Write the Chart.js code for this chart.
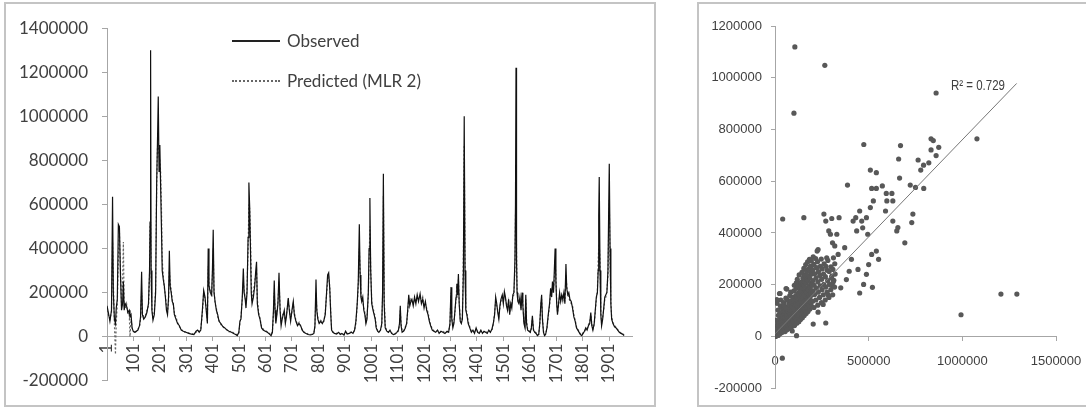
<!DOCTYPE html>
<html>
<head>
<meta charset="utf-8">
<script src="https://cdn.jsdelivr.net/npm/chart.js@4.4.1/dist/chart.umd.min.js"></script>
<style>
  html, body { margin: 0; padding: 0; background: #fff; overflow: hidden; }
  body { width: 1086px; height: 408px; position: relative; }
  .panel { position: absolute; border: 2px solid #c4c4c4; box-sizing: border-box; background: #fff; }
  #leftPanel { left: 4px; top: 2px; width: 652px; height: 405px; }
  #rightPanel { left: 697px; top: 2px; width: 400px; height: 405px; }
  .wrap { position: relative; width: 100%; height: 100%; }
  .legline { position: absolute; left: 232px; width: 48px; height: 0; }
  .legtext { position: absolute; left: 287px; font: 17px Lato, sans-serif; color: #404040; line-height: 20px; white-space: nowrap; }
  #r2 { position: absolute; left: 951px; top: 76px; font: 14px 'Liberation Sans', sans-serif; color: #404040; line-height: 18px; white-space: nowrap; transform: scaleX(0.82); transform-origin: left center; }
</style>
</head>
<body>
<div class="panel" id="leftPanel"><div class="wrap"><canvas id="seriesChart"></canvas></div></div>
<div class="panel" id="rightPanel"><div class="wrap"><canvas id="scatterChart"></canvas></div></div>

<div class="legline" style="top:40px; border-top:2px solid #222;"></div>
<div class="legtext" style="top:31px;">Observed</div>
<div class="legline" style="top:80px; border-top:2px dotted #666;"></div>
<div class="legtext" style="top:71px;">Predicted (MLR 2)</div>
<div id="r2">R² = 0.729</div>

<script>
// time series: day index, observed and predicted flow
const days = [
  1, 6, 12, 18, 22, 25, 29, 33, 36, 40,
  44, 48, 52, 56, 60, 63, 66, 70, 75, 80,
  85, 88, 92, 96, 100, 106, 112, 118, 124, 128,
  132, 135, 140, 146, 152, 158, 162, 164, 166, 168,
  171, 175, 180, 185, 189, 192, 195, 198, 201, 204,
  207, 210, 214, 218, 222, 226, 230, 234, 237, 240,
  244, 248, 252, 256, 262, 268, 275, 282, 290, 300,
  310, 320, 330, 338, 344, 350, 356, 362, 367, 372,
  378, 381, 384, 387, 392, 397, 400, 403, 406, 410,
  415, 420, 425, 432, 440, 447, 455, 463, 472, 480,
  488, 494, 500, 504, 508, 513, 517, 520, 524, 527,
  531, 535, 538, 541, 544, 547, 550, 555, 560, 564,
  567, 570, 575, 580, 586, 592, 600, 608, 616, 622,
  627, 631, 634, 637, 640, 644, 648, 652, 656, 660,
  664, 668, 672, 676, 680, 684, 687, 691, 696, 701,
  706, 710, 716, 722, 728, 734, 740, 746, 754, 762,
  770, 778, 784, 788, 792, 795, 799, 804, 810, 816,
  822, 827, 832, 836, 840, 844, 848, 851, 856, 862,
  870, 878, 884, 890, 898, 904, 910, 918, 926, 932,
  938, 943, 948, 952, 956, 959, 962, 965, 969, 973,
  977, 981, 985, 990, 993, 996, 999, 1003, 1008, 1012,
  1016, 1020, 1025, 1030, 1036, 1041, 1044, 1047, 1050, 1054,
  1060, 1066, 1072, 1078, 1085, 1092, 1098, 1104, 1108, 1111,
  1114, 1118, 1124, 1130, 1135, 1139, 1143, 1147, 1151, 1155,
  1160, 1165, 1170, 1175, 1180, 1186, 1191, 1196, 1201, 1206,
  1211, 1216, 1221, 1226, 1232, 1238, 1245, 1252, 1258, 1265,
  1272, 1280, 1288, 1294, 1299, 1303, 1306, 1310, 1314, 1318,
  1322, 1325, 1328, 1331, 1334, 1338, 1342, 1346, 1350, 1353,
  1356, 1359, 1363, 1368, 1374, 1380, 1386, 1392, 1398, 1404,
  1410, 1416, 1422, 1428, 1434, 1440, 1446, 1452, 1458, 1463,
  1468, 1472, 1476, 1480, 1484, 1488, 1492, 1497, 1501, 1505,
  1509, 1513, 1517, 1521, 1525, 1529, 1533, 1537, 1541, 1545,
  1547, 1549, 1551, 1553, 1556, 1560, 1564, 1568, 1572, 1575,
  1579, 1583, 1586, 1589, 1593, 1598, 1603, 1607, 1611, 1615,
  1620, 1625, 1630, 1635, 1639, 1643, 1646, 1649, 1653, 1657,
  1661, 1666, 1671, 1676, 1680, 1684, 1687, 1691, 1694, 1697,
  1700, 1703, 1706, 1710, 1714, 1718, 1722, 1726, 1730, 1734,
  1738, 1741, 1745, 1749, 1753, 1758, 1763, 1768, 1773, 1778,
  1783, 1788, 1793, 1798, 1803, 1808, 1813, 1818, 1823, 1828,
  1832, 1836, 1840, 1845, 1849, 1853, 1857, 1860, 1862, 1864,
  1867, 1870, 1873, 1877, 1881, 1885, 1889, 1893, 1897, 1900,
  1902, 1905, 1908, 1911, 1916, 1922, 1928, 1934, 1940, 1946,
  1952, 1958
];

const observed = [
  140000, 110000, 70000, 120000, 635000, 200000, 80000, 60000, 130000, 170000,
  510000, 500000, 280000, 120000, 150000, 250000, 120000, 150000, 140000, 110000,
  120000, 90000, 100000, 40000, 25000, 20000, 25000, 30000, 50000, 90000,
  295000, 100000, 80000, 90000, 110000, 150000, 300000, 520000, 1300000, 300000,
  120000, 75000, 100000, 200000, 700000, 880000, 1090000, 750000, 870000, 680000,
  500000, 300000, 260000, 230000, 180000, 120000, 100000, 180000, 390000, 230000,
  200000, 160000, 150000, 100000, 80000, 60000, 50000, 30000, 25000, 20000,
  15000, 12000, 10000, 25000, 30000, 20000, 30000, 120000, 210000, 180000,
  100000, 60000, 400000, 230000, 200000, 190000, 300000, 485000, 200000, 160000,
  120000, 100000, 70000, 60000, 45000, 40000, 30000, 25000, 20000, 15000,
  10000, 5000, 20000, 70000, 80000, 180000, 310000, 200000, 170000, 130000,
  200000, 450000, 700000, 590000, 400000, 200000, 150000, 180000, 230000, 300000,
  340000, 150000, 100000, 80000, 40000, 30000, 25000, 20000, 12000, 5000,
  20000, 120000, 255000, 120000, 60000, 100000, 150000, 290000, 120000, 50000,
  80000, 100000, 120000, 60000, 90000, 140000, 175000, 120000, 70000, 120000,
  160000, 100000, 70000, 50000, 60000, 50000, 30000, 20000, 15000, 10000,
  8000, 10000, 15000, 50000, 260000, 120000, 80000, 60000, 70000, 60000,
  75000, 100000, 200000, 280000, 290000, 220000, 100000, 30000, 20000, 15000,
  12000, 20000, 10000, 15000, 8000, 25000, 12000, 15000, 20000, 15000,
  30000, 70000, 150000, 250000, 510000, 280000, 180000, 160000, 180000, 120000,
  100000, 60000, 80000, 200000, 400000, 630000, 300000, 150000, 120000, 100000,
  80000, 40000, 25000, 20000, 30000, 60000, 200000, 740000, 150000, 40000,
  25000, 20000, 30000, 15000, 10000, 12000, 20000, 30000, 60000, 140000,
  50000, 20000, 25000, 40000, 60000, 120000, 190000, 140000, 160000, 170000,
  140000, 180000, 150000, 190000, 160000, 195000, 150000, 170000, 130000, 160000,
  120000, 100000, 70000, 50000, 30000, 25000, 20000, 30000, 15000, 25000,
  20000, 15000, 25000, 20000, 60000, 225000, 80000, 40000, 60000, 120000,
  180000, 240000, 190000, 285000, 150000, 70000, 60000, 80000, 300000, 1000000,
  300000, 120000, 100000, 60000, 40000, 20000, 30000, 15000, 40000, 20000,
  15000, 30000, 15000, 25000, 20000, 15000, 30000, 20000, 35000, 60000,
  100000, 180000, 150000, 110000, 80000, 140000, 170000, 190000, 150000, 205000,
  180000, 140000, 120000, 170000, 100000, 150000, 130000, 190000, 200000, 350000,
  600000, 1220000, 350000, 200000, 160000, 150000, 180000, 120000, 200000, 140000,
  60000, 40000, 190000, 60000, 30000, 25000, 20000, 40000, 95000, 30000,
  20000, 15000, 5000, 10000, 60000, 150000, 190000, 80000, 20000, 5000,
  10000, 40000, 100000, 150000, 220000, 180000, 250000, 200000, 300000, 400000,
  250000, 150000, 100000, 150000, 200000, 160000, 190000, 170000, 200000, 150000,
  330000, 220000, 190000, 200000, 170000, 160000, 130000, 90000, 70000, 40000,
  30000, 20000, 10000, 5000, 15000, 25000, 40000, 30000, 50000, 60000,
  110000, 50000, 30000, 60000, 120000, 180000, 200000, 300000, 550000, 725000,
  300000, 100000, 50000, 80000, 130000, 180000, 190000, 200000, 300000, 600000,
  785000, 400000, 150000, 80000, 60000, 45000, 40000, 30000, 20000, 15000,
  12000, 5000
];

const predicted = [
  120000, 100000, 80000, 110000, 430000, 250000, 60000, -80000, 60000, 150000,
  350000, 480000, 300000, 140000, 250000, 430000, 140000, 130000, 150000, 100000,
  110000, 0, 80000, 40000, 30000, 15000, 25000, 35000, 45000, 80000,
  200000, 110000, 90000, 95000, 120000, 140000, 280000, 500000, 520000, 280000,
  130000, 80000, 110000, 220000, 680000, 860000, 870000, 820000, 800000, 750000,
  600000, 350000, 280000, 220000, 190000, 140000, 110000, 160000, 300000, 250000,
  210000, 170000, 140000, 110000, 90000, 65000, 45000, 35000, 20000, 22000,
  18000, 15000, 12000, 20000, 28000, 25000, 35000, 110000, 200000, 170000,
  120000, 70000, 320000, 240000, 210000, 180000, 280000, 400000, 220000, 150000,
  130000, 90000, 75000, 55000, 48000, 35000, 32000, 22000, 25000, 18000,
  12000, 8000, 15000, 60000, 90000, 170000, 250000, 210000, 180000, 150000,
  220000, 400000, 600000, 580000, 450000, 250000, 160000, 200000, 250000, 280000,
  300000, 170000, 110000, 85000, 45000, 35000, 28000, 22000, 15000, 8000,
  25000, 100000, 200000, 130000, 70000, 110000, 160000, 250000, 140000, 60000,
  90000, 110000, 100000, 70000, 100000, 130000, 160000, 130000, 80000, 110000,
  150000, 110000, 75000, 55000, 65000, 45000, 32000, 22000, 18000, 12000,
  10000, 12000, 18000, 45000, 200000, 130000, 85000, 65000, 75000, 65000,
  70000, 110000, 190000, 250000, 270000, 230000, 110000, 35000, 22000, 18000,
  15000, 18000, 12000, 12000, 10000, 20000, 15000, 18000, 22000, 18000,
  28000, 60000, 140000, 230000, 400000, 300000, 200000, 170000, 160000, 130000,
  110000, 70000, 90000, 180000, 350000, 500000, 320000, 160000, 130000, 110000,
  90000, 45000, 30000, 25000, 28000, 50000, 180000, 640000, 180000, 50000,
  28000, 22000, 25000, 18000, 12000, 15000, 18000, 25000, 50000, 120000,
  60000, 25000, 28000, 45000, 55000, 110000, 170000, 150000, 170000, 160000,
  150000, 170000, 160000, 180000, 170000, 180000, 160000, 180000, 140000, 150000,
  130000, 110000, 80000, 55000, 35000, 28000, 25000, 28000, 18000, 22000,
  25000, 18000, 22000, 25000, 55000, 200000, 90000, 50000, 70000, 110000,
  170000, 230000, 200000, 260000, 160000, 80000, 65000, 90000, 400000, 870000,
  350000, 130000, 110000, 70000, 45000, 25000, 28000, 18000, 35000, 22000,
  18000, 25000, 18000, 22000, 25000, 18000, 25000, 22000, 30000, 55000,
  110000, 160000, 140000, 120000, 90000, 130000, 160000, 180000, 160000, 190000,
  170000, 150000, 130000, 160000, 110000, 140000, 150000, 180000, 190000, 300000,
  550000, 620000, 400000, 220000, 170000, 160000, 170000, 130000, 190000, 150000,
  70000, 50000, 170000, 70000, 35000, 28000, 22000, 35000, 80000, 35000,
  22000, 18000, 8000, 12000, 55000, 140000, 170000, 90000, 25000, 8000,
  15000, 35000, 90000, 140000, 200000, 190000, 230000, 220000, 260000, 350000,
  280000, 160000, 110000, 140000, 180000, 170000, 180000, 160000, 190000, 160000,
  280000, 230000, 200000, 180000, 160000, 150000, 140000, 100000, 75000, 45000,
  35000, 22000, 12000, 8000, 18000, 22000, 35000, 35000, 55000, 65000,
  100000, 55000, 35000, 55000, 110000, 170000, 210000, 350000, 400000, 420000,
  350000, 120000, 60000, 90000, 120000, 170000, 180000, 210000, 280000, 500000,
  620000, 350000, 160000, 90000, 65000, 50000, 42000, 32000, 22000, 18000,
  15000, 8000
];

const dayTicks = [1, 101, 201, 301, 401, 501, 601, 701, 801, 901, 1001, 1101, 1201, 1301, 1401, 1501, 1601, 1701, 1801, 1901];
const flowTicks = [-200000, 0, 200000, 400000, 600000, 800000, 1000000, 1200000, 1400000];

// scatter: observed (x) vs predicted (y); outliers first, then the dense cluster
const scatterOutliers = [
  [106000, 1119000], [266000, 1048000], [101000, 863000], [860000, 941000], [41000, 454000],
  [154000, 459000], [474000, 742000], [387000, 585000], [509000, 643000], [541000, 633000],
  [516000, 572000], [541000, 572000], [573000, 582000], [594000, 553000], [624000, 553000],
  [629000, 524000], [597000, 524000], [590000, 485000], [629000, 446000], [656000, 421000],
  [650000, 408000], [660000, 686000], [670000, 738000], [665000, 612000], [693000, 362000],
  [722000, 585000], [736000, 473000], [730000, 440000], [750000, 576000], [764000, 682000],
  [778000, 643000], [793000, 662000], [794000, 572000], [821000, 671000], [833000, 764000],
  [845000, 757000], [833000, 721000], [874000, 731000], [860000, 699000], [1078000, 764000],
  [993000, 84000], [1206000, 164000], [1291000, 164000], [39000, -84000], [452000, 168000],
  [473000, 201000], [488000, 240000], [520000, 190000], [500000, 278000], [541000, 330000],
  [553000, 298000], [516000, 317000], [443000, 259000], [408000, 298000], [372000, 343000],
  [381000, 220000], [396000, 252000], [351000, 188000], [271000, 52000], [204000, 48000],
  [115000, 3000], [59000, 185000], [9000, 142000], [417000, 446000], [431000, 459000],
  [452000, 485000], [463000, 446000], [468000, 420000], [436000, 408000], [488000, 459000],
  [509000, 498000], [525000, 524000], [495000, 395000], [261000, 473000], [271000, 446000],
  [296000, 395000], [307000, 362000], [319000, 350000], [337000, 317000], [342000, 459000],
  [303000, 456000], [287000, 408000], [330000, 395000], [312000, 304000], [276000, 304000],
  [230000, 336000], [186000, 110000], [230000, 94000], [257000, 124000], [284000, 160000],
  [310000, 194000], [314000, 217000], [303000, 233000], [27000, 166000], [124000, 205000],
  [154000, 233000], [177000, 259000], [195000, 272000], [225000, 330000]
];

const scatterCluster = [
  [3000, 5000], [6000, 22000], [8000, 41000], [4000, 0], [9000, 15000], [12000, 31000], [7000, 62000], [11000, 128000],
  [13000, 9000], [16000, 27000], [14000, 47000], [18000, 82000], [12000, 140000],
  [17000, 4000], [21000, 19000], [19000, 37000], [23000, 56000], [16000, 102000],
  [24000, 14000], [27000, 31000], [22000, 52000], [26000, 73000], [29000, 118000],
  [28000, 11000], [31000, 42000], [33000, 62000], [27000, 91000], [24000, 166000],
  [34000, 21000], [36000, 34000], [32000, 57000], [38000, 78000], [35000, 112000], [31000, 141000],
  [39000, 16000], [42000, 46000], [37000, 71000], [41000, 98000],
  [44000, 24000], [47000, 52000], [43000, 76000], [48000, 94000], [46000, 131000],
  [49000, 31000], [52000, 61000], [51000, 86000], [47000, 121000],
  [54000, 19000], [57000, 44000], [53000, 72000], [56000, 101000], [58000, 148000],
  [59000, 36000], [62000, 59000], [61000, 92000], [57000, 114000], [63000, 183000],
  [64000, 26000], [67000, 51000], [63000, 81000], [68000, 109000], [66000, 141000],
  [69000, 41000], [72000, 69000], [71000, 96000], [74000, 128000],
  [76000, 31000], [73000, 61000], [78000, 89000], [77000, 121000], [79000, 158000],
  [81000, 46000], [84000, 76000], [82000, 101000], [86000, 138000],
  [87000, 36000], [85000, 66000], [88000, 96000], [91000, 126000], [84000, 171000],
  [92000, 21000], [89000, 54000], [94000, 86000], [93000, 116000], [96000, 151000],
  [97000, 58000], [99000, 88000], [102000, 113000], [98000, 147000], [103000, 198000],
  [104000, 42000], [107000, 73000], [106000, 108000], [108000, 139000], [101000, 176000],
  [112000, 62000], [109000, 94000], [113000, 127000], [111000, 158000], [114000, 207000],
  [116000, 51000], [118000, 83000], [117000, 119000], [119000, 152000], [113000, 186000],
  [121000, 71000], [123000, 102000], [122000, 133000], [124000, 168000], [119000, 221000],
  [127000, 57000], [126000, 93000], [128000, 128000], [129000, 161000], [125000, 196000],
  [131000, 76000], [133000, 108000], [132000, 147000], [134000, 181000], [129000, 238000],
  [136000, 66000], [137000, 102000], [138000, 138000], [136000, 173000], [139000, 209000],
  [141000, 87000], [142000, 118000], [143000, 156000], [141000, 191000], [144000, 248000],
  [146000, 72000], [147000, 112000], [148000, 148000], [146000, 186000], [149000, 224000],
  [151000, 92000], [152000, 128000], [153000, 166000], [151000, 201000], [154000, 263000],
  [156000, 81000], [157000, 121000], [158000, 158000], [156000, 196000], [159000, 236000],
  [161000, 101000], [162000, 139000], [163000, 176000], [161000, 211000], [164000, 278000],
  [166000, 89000], [167000, 131000], [168000, 171000], [166000, 206000], [169000, 251000],
  [171000, 111000], [172000, 148000], [173000, 186000], [171000, 221000], [174000, 288000],
  [176000, 96000], [177000, 141000], [178000, 181000], [176000, 216000], [179000, 259000],
  [181000, 121000], [182000, 161000], [183000, 196000], [181000, 234000], [184000, 298000],
  [186000, 106000], [187000, 151000], [188000, 189000], [186000, 226000], [189000, 271000],
  [191000, 131000], [192000, 169000], [193000, 206000], [191000, 246000], [194000, 293000],
  [196000, 116000], [197000, 161000], [198000, 199000], [196000, 241000],
  [201000, 136000], [202000, 176000], [203000, 216000], [201000, 256000], [204000, 308000],
  [208000, 112000], [211000, 162000], [209000, 198000], [212000, 242000], [207000, 279000],
  [218000, 141000], [221000, 186000], [219000, 226000], [222000, 266000], [217000, 301000],
  [228000, 121000], [231000, 171000], [229000, 211000], [232000, 251000], [227000, 289000],
  [238000, 151000], [241000, 196000], [239000, 236000], [242000, 271000],
  [248000, 131000], [251000, 181000], [249000, 221000], [252000, 261000], [247000, 299000],
  [258000, 161000], [261000, 201000], [259000, 241000], [262000, 281000],
  [268000, 141000], [271000, 191000], [269000, 231000], [272000, 271000],
  [278000, 171000], [281000, 216000], [279000, 256000], [282000, 294000],
  [288000, 151000], [291000, 201000], [289000, 251000],
  [298000, 181000], [301000, 226000], [299000, 269000],
  [308000, 161000], [311000, 211000], [309000, 259000],
  [318000, 191000], [321000, 241000], [319000, 281000]
];

// linear trend line end points
const trendX = [0, 1290000];
const trendY = [10000, 978000];

const xyTicks = [0, 500000, 1000000, 1500000];
const scatterYTicks = [-200000, 0, 200000, 400000, 600000, 800000, 1000000, 1200000];

const axisGrey = '#a6a6a6';
const textGrey = '#404040';
const leftFont = { family: 'Lato, sans-serif', size: 17 };
const rightFont = { family: "'Liberation Sans', sans-serif", size: 13 };

Chart.defaults.animation = false;
Chart.defaults.color = textGrey;

new Chart(document.getElementById('seriesChart'), {
  type: 'line',
  data: {
    datasets: [
      {
        label: 'Observed',
        data: days.map((d, i) => ({ x: d, y: observed[i] })),
        borderColor: '#111',
        borderWidth: 1.2,
        pointRadius: 0,
        tension: 0
      },
      {
        label: 'Predicted (MLR 2)',
        data: days.map((d, i) => ({ x: d, y: predicted[i] })),
        borderColor: '#666',
        borderWidth: 1.2,
        borderDash: [2, 2],
        pointRadius: 0,
        tension: 0
      }
    ]
  },
  options: {
    responsive: true,
    maintainAspectRatio: false,
    layout: { padding: { top: 20, right: 22, left: 0, bottom: 0 } },
    plugins: { legend: { display: false }, tooltip: { enabled: false } },
    scales: {
      x: {
        type: 'linear',
        position: { y: 0 },
        min: 1,
        max: 1988,
        afterBuildTicks: (scale) => { scale.ticks = dayTicks.map(v => ({ value: v })); },
        afterFit: (scale) => { scale.height = 22; },
        ticks: { autoSkip: false, minRotation: 90, maxRotation: 90, padding: 3, font: leftFont, color: textGrey, callback: v => String(v) },
        grid: { drawOnChartArea: false, drawTicks: true, tickLength: 4, color: axisGrey },
        border: { color: axisGrey }
      },
      y: {
        min: -200000,
        max: 1400000,
        afterBuildTicks: (scale) => { scale.ticks = flowTicks.map(v => ({ value: v })); },
        afterFit: (scale) => { scale.width = 101; },
        ticks: { padding: 14, font: leftFont, color: textGrey, callback: v => String(v) },
        grid: { drawOnChartArea: false, drawTicks: true, tickLength: 5, color: axisGrey },
        border: { color: axisGrey }
      }
    }
  }
});

new Chart(document.getElementById('scatterChart'), {
  type: 'scatter',
  data: {
    datasets: [
      {
        label: 'Trend',
        type: 'line',
        data: trendX.map((x, i) => ({ x: x, y: trendY[i] })),
        borderColor: '#777',
        borderWidth: 1,
        pointRadius: 0,
        order: 0
      },
      {
        label: 'Observed vs predicted',
        data: scatterOutliers.concat(scatterCluster).map(p => ({ x: p[0], y: p[1] })),
        backgroundColor: '#585858',
        borderColor: '#585858',
        borderWidth: 0,
        pointRadius: 2.6,
        order: 1
      }
    ]
  },
  options: {
    responsive: true,
    maintainAspectRatio: false,
    layout: { padding: { top: 22, right: 39, left: 0, bottom: 0 } },
    plugins: { legend: { display: false }, tooltip: { enabled: false } },
    scales: {
      x: {
        type: 'linear',
        position: { y: 0 },
        min: 0,
        max: 1500000,
        afterBuildTicks: (scale) => { scale.ticks = xyTicks.map(v => ({ value: v })); },
        afterFit: (scale) => { scale.height = 19; },
        ticks: { autoSkip: false, maxRotation: 0, padding: 13, font: rightFont, color: textGrey, callback: v => String(v) },
        grid: { drawOnChartArea: false, drawTicks: true, tickLength: 4, color: axisGrey },
        border: { color: axisGrey }
      },
      y: {
        min: -200000,
        max: 1200000,
        afterBuildTicks: (scale) => { scale.ticks = scatterYTicks.map(v => ({ value: v })); },
        afterFit: (scale) => { scale.width = 76; },
        ticks: { padding: 9, font: rightFont, color: textGrey, callback: v => String(v) },
        grid: { drawOnChartArea: false, drawTicks: true, tickLength: 4, color: axisGrey },
        border: { color: axisGrey }
      }
    }
  }
});
</script>
</body>
</html>
